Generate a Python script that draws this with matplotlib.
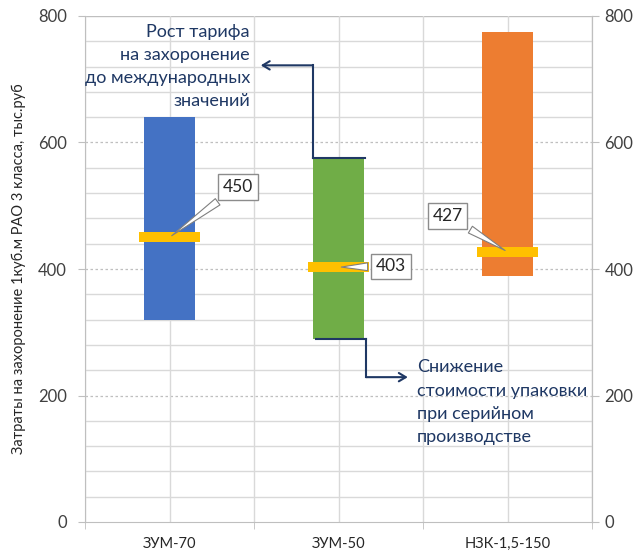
import matplotlib
matplotlib.use("Agg")
import matplotlib.pyplot as plt
import numpy as np

categories = ["ЗУМ-70", "ЗУМ-50", "НЗК-1,5-150"]
low_values = [320, 289, 389]
high_values = [640, 575, 775]
mid_values = [450, 403, 427]
bar_colors = ["#4472C4", "#70AD47", "#ED7D31"]
y_ticks = [0, 200, 400, 600, 800]
ylabel = "Затраты на захоронение 1куб.м РАО 3 класса, тыс.руб"
note_up = "Рост тарифа\nна захоронение\nдо международных\nзначений"
note_down = "Снижение\nстоимости упаковки\nпри серийном\nпроизводстве"

plt.rcParams['font.family'] = ['Lato', 'DejaVu Sans']

fig = plt.figure(figsize=(6.37, 5.51), dpi=100)
ax = fig.add_axes([85/637, 29/551, (592-85)/637, (522-16)/551])

x = np.arange(len(categories))
ax.set_xlim(-0.5, 2.5)
ax.set_ylim(0, 800)

# grid
for yv in range(40, 800, 40):
    if yv % 200 == 0:
        ax.axhline(yv, color="#BFBFBF", lw=0.9, ls=(0, (2, 2)), zorder=0)
    else:
        ax.axhline(yv, color="#D9D9D9", lw=1.0, zorder=0)
ax.axhline(800, color="#BFBFBF", lw=1.0, zorder=0)
for xv in np.arange(-0.5, 2.6, 0.5):
    ax.axvline(xv, color="#D9D9D9", lw=1.0, zorder=0)

heights = [h - l for h, l in zip(high_values, low_values)]
ax.bar(x, heights, bottom=low_values, width=0.30, color=bar_colors, zorder=2)
for xi, m in zip(x, mid_values):
    ax.bar(xi, 16, bottom=m - 8, width=0.36, color="#FFC000", zorder=3)

# callouts
label_pos = [(0.405, 530), (1.31, 404), (1.645, 484)]
for xi, m, (lx, ly) in zip(x, mid_values, label_pos):
    ax.annotate(str(m), xy=(xi, m), xytext=(lx, ly), ha="center", va="center",
                fontsize=12.5, color="#262626", zorder=5,
                bbox=dict(boxstyle="square,pad=0.28", fc="white", ec="#8C8C8C", lw=1),
                arrowprops=dict(arrowstyle="wedge,tail_width=0.45,shrink_factor=0.5",
                                fc="white", ec="#7F7F7F", lw=0.8))

line_col = "#1F3864"
# upward note arrow
ax.plot([0.849, 1.157], [575, 575], color=line_col, lw=1.5, zorder=4)
ax.plot([0.849, 0.849], [575, 722], color=line_col, lw=1.5, zorder=4)
ax.annotate("", xy=(0.54, 722), xytext=(0.849, 722),
            arrowprops=dict(arrowstyle="->,head_length=0.5,head_width=0.3", color=line_col, lw=1.5,
                            shrinkA=0, shrinkB=0), zorder=4)
# downward note arrow
ax.plot([0.867, 1.163], [289, 289], color=line_col, lw=1.5, zorder=4)
ax.plot([1.163, 1.163], [289, 229], color=line_col, lw=1.5, zorder=4)
ax.annotate("", xy=(1.41, 229), xytext=(1.163, 229),
            arrowprops=dict(arrowstyle="->,head_length=0.5,head_width=0.3", color=line_col, lw=1.5,
                            shrinkA=0, shrinkB=0), zorder=4)

ax.text(0.476, 788, note_up, ha="right", va="top", fontsize=13, color="#1F3864",
        linespacing=1.55, zorder=5)
ax.text(1.464, 257, note_down, ha="left", va="top", fontsize=13, color="#1F3864",
        linespacing=1.55, zorder=5)

# axes styling
ax.set_xticks(x)
ax.set_xticklabels(categories, fontsize=10.5, color="#262626")
ax.set_xticks(np.arange(-0.5, 2.6, 1.0), minor=True)
ax.tick_params(axis="x", which="major", length=0, pad=11)
ax.tick_params(axis="x", which="minor", length=5, color="#BFBFBF")
ax.set_yticks(y_ticks)
ax.tick_params(axis="y", labelsize=12, length=5, color="#BFBFBF", labelcolor="#404040", pad=8)
ax.spines["top"].set_visible(False)
for s in ["left", "right", "bottom"]:
    ax.spines[s].set_color("#BFBFBF")
ax.set_ylabel(ylabel, fontsize=10.5, color="#262626", labelpad=9)

ax2 = ax.twinx()
ax2.set_ylim(0, 800)
ax2.set_yticks(y_ticks)
ax2.tick_params(axis="y", labelsize=12, length=5, color="#BFBFBF", labelcolor="#404040", pad=4)
for s in ["top", "left", "bottom"]:
    ax2.spines[s].set_visible(False)
ax2.spines["right"].set_color("#BFBFBF")

fig.savefig("out.png", dpi=100)
